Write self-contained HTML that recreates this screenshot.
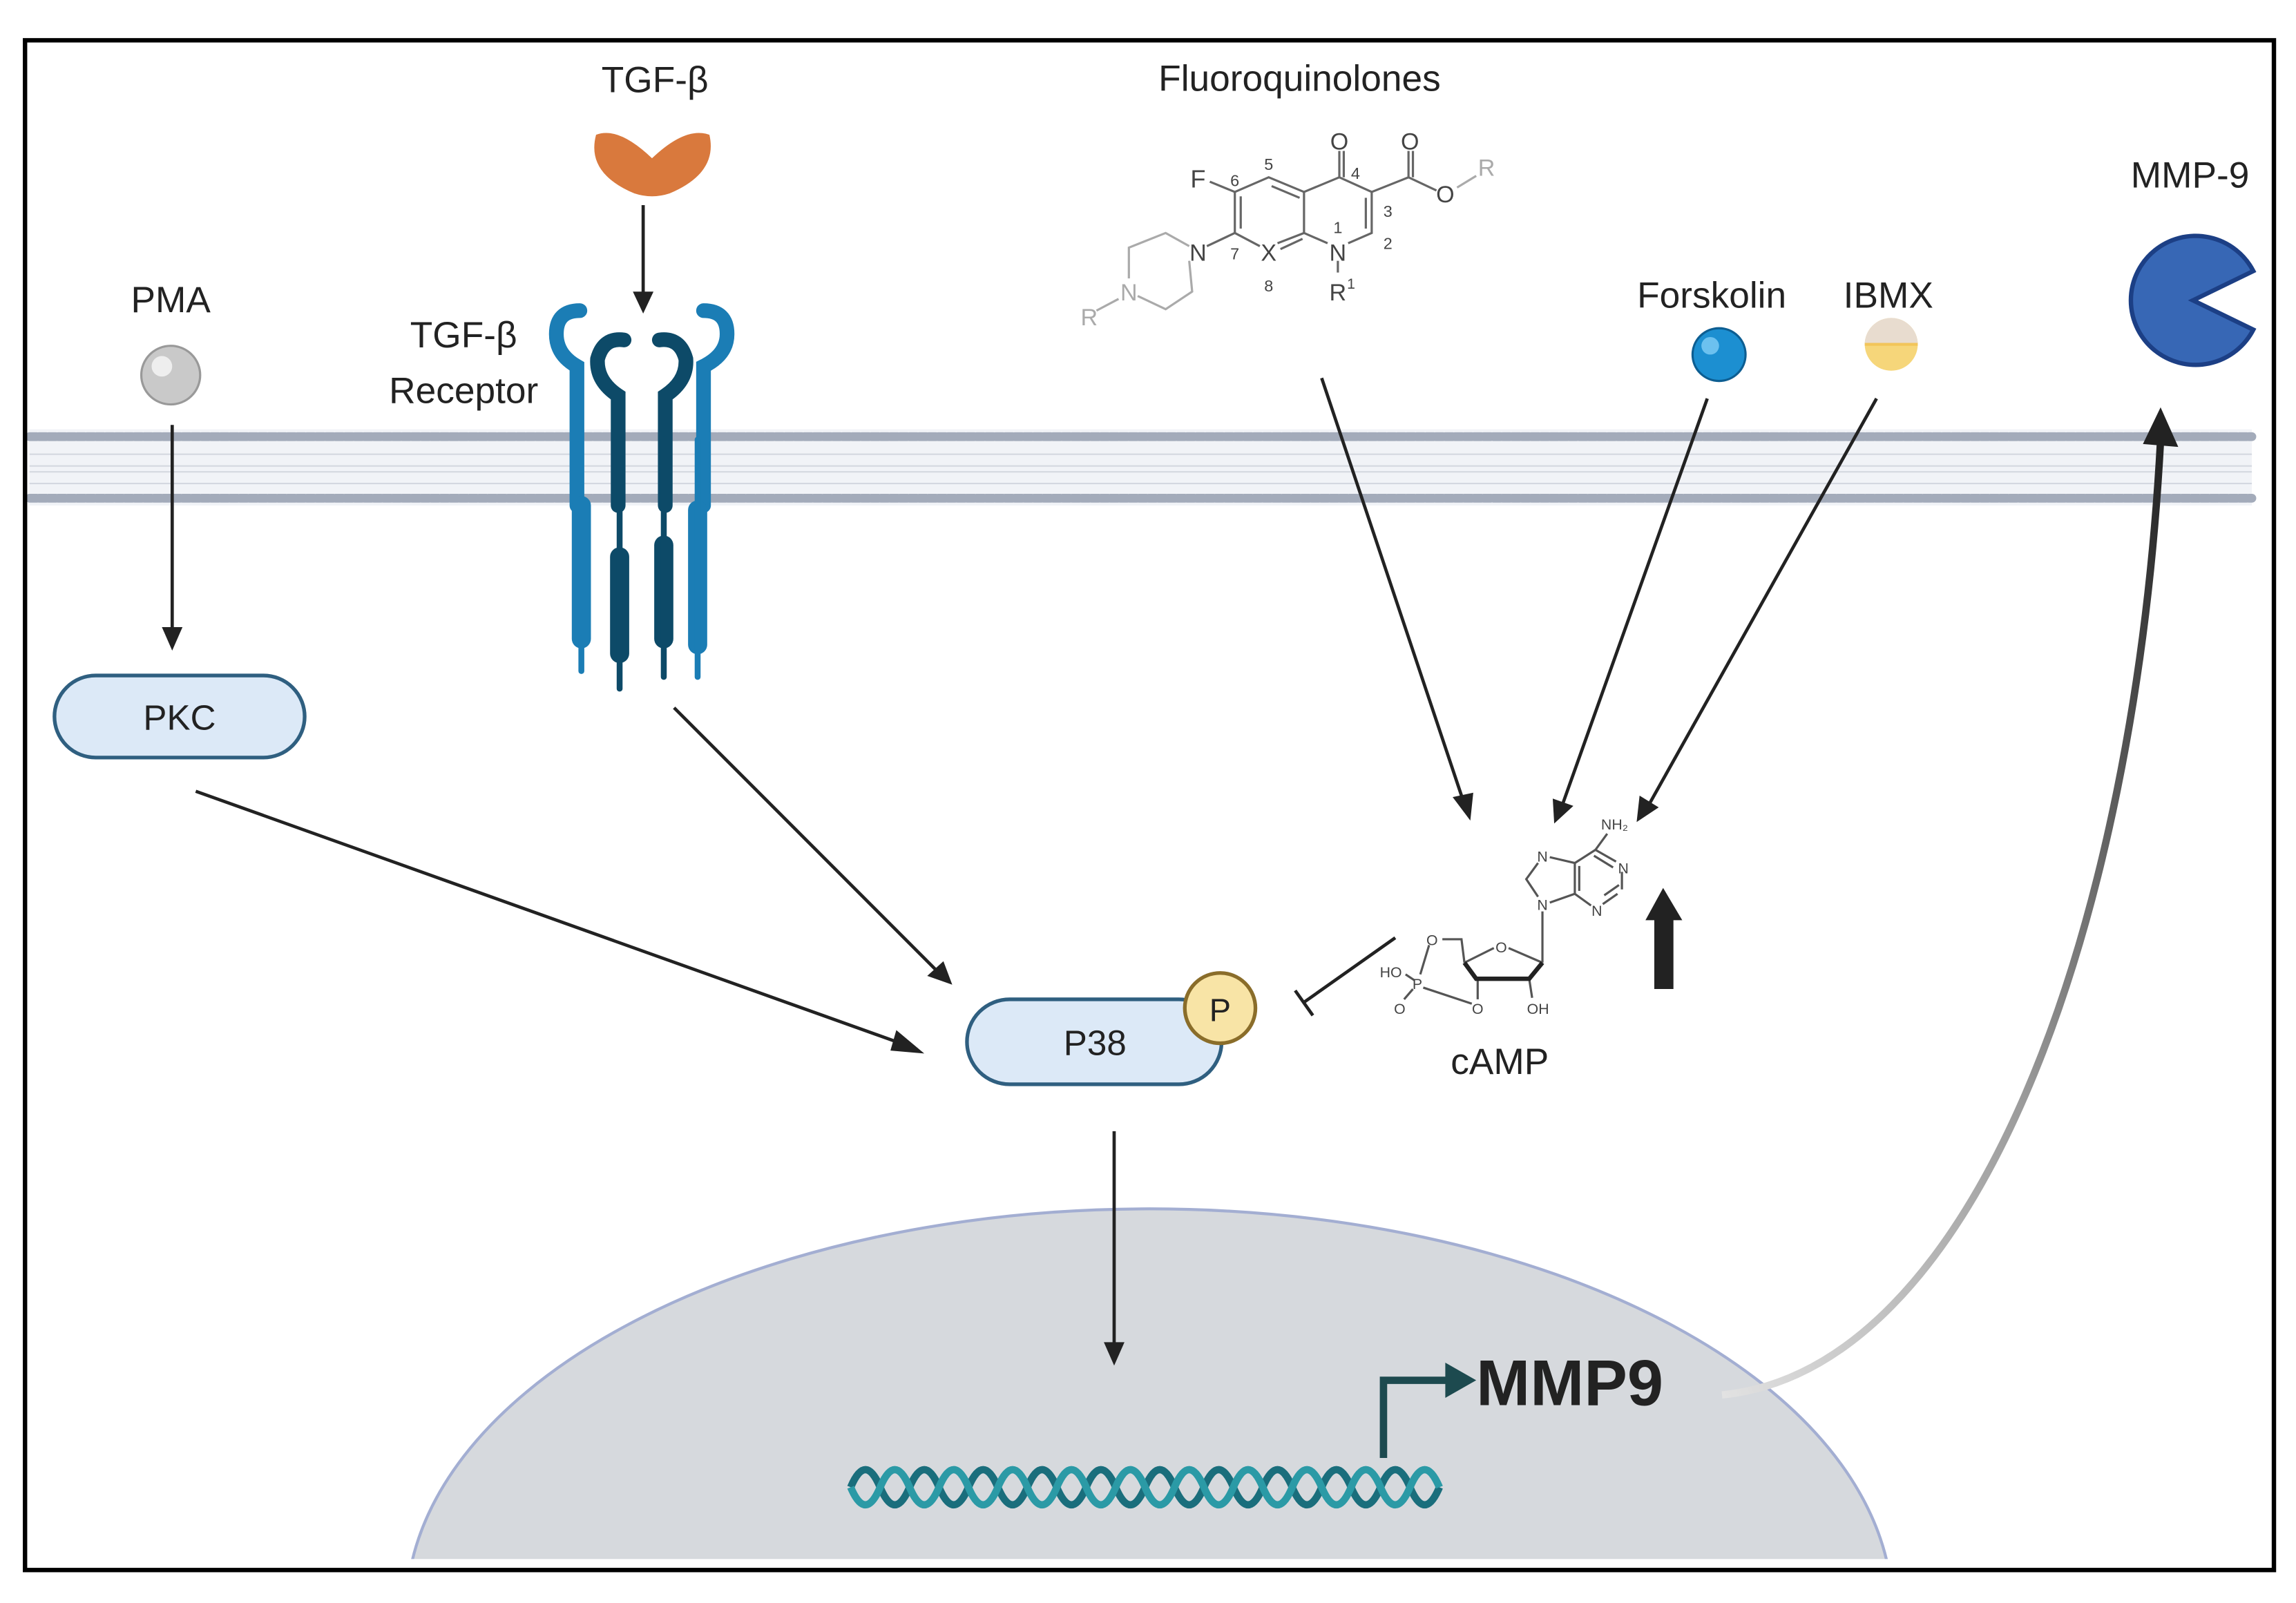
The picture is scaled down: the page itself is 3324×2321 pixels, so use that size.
<!DOCTYPE html>
<html><head><meta charset="utf-8"><style>
html,body{margin:0;padding:0;background:#fff;width:3324px;height:2321px;overflow:hidden;}
svg{display:block;}
text{font-family:"Liberation Sans",sans-serif;}
</style></head><body>
<svg width="3324" height="2321" viewBox="0 0 1560 1094" preserveAspectRatio="none" xmlns="http://www.w3.org/2000/svg">
<defs>
<linearGradient id="cg" x1="0" y1="1" x2="1" y2="0">
<stop offset="0" stop-color="#e2e2e2"/><stop offset="0.5" stop-color="#9a9a9a"/><stop offset="1" stop-color="#222"/>
</linearGradient>
<clipPath id="clipB"><rect x="18" y="28" width="1526" height="1042"/></clipPath>
</defs>
<rect width="1560" height="1094" fill="#fff"/>
<g clip-path="url(#clipB)">
<ellipse cx="781" cy="1100" rx="505" ry="275" fill="#d6d9dd" stroke="#a3aed2" stroke-width="2"/>
<rect x="18" y="1064" width="1526" height="10" fill="#fff"/>
</g>
<rect x="20" y="293" width="1510" height="52" fill="#f1f3f7"/>
<g stroke="#d4d8e0" stroke-width="1">
<line x1="20" y1="310" x2="1530" y2="310"/><line x1="20" y1="318" x2="1530" y2="318"/><line x1="20" y1="322" x2="1530" y2="322"/><line x1="20" y1="330" x2="1530" y2="330"/>
</g>
<line x1="20" y1="298" x2="1530" y2="298" stroke="#a3abba" stroke-width="6" stroke-dasharray="5 1.5" stroke-linecap="round"/>
<line x1="20" y1="340" x2="1530" y2="340" stroke="#a3abba" stroke-width="6" stroke-dasharray="5 1.5" stroke-linecap="round"/>
<rect x="17" y="27.5" width="1528" height="1044" fill="none" stroke="#000" stroke-width="3"/>

<text x="116" y="213" font-size="25" text-anchor="middle" fill="#222">PMA</text>
<circle cx="116" cy="256" r="20" fill="#c9c9c9" stroke="#999" stroke-width="1.5"/>
<circle cx="110" cy="250" r="7" fill="#eee"/>
<line x1="117" y1="290" x2="117" y2="428" stroke="#222" stroke-width="2.2"/>
<polygon points="110,428 124,428 117,444" fill="#222"/>
<rect x="37" y="461" width="170" height="56" rx="28" fill="#dce9f7" stroke="#2f5f80" stroke-width="2.5"/>
<text x="122" y="498" font-size="24" text-anchor="middle" fill="#222">PKC</text>

<text x="445" y="63" font-size="25" text-anchor="middle" fill="#222">TGF-β</text>
<path d="M405,92 Q420,86 443,108 Q466,86 482,92 Q488,118 455,132 Q443,136 431,132 Q398,118 405,92Z" fill="#d9793d"/>
<line x1="437" y1="140" x2="437" y2="200" stroke="#222" stroke-width="2.2"/>
<polygon points="430,199 444,199 437,214" fill="#222"/>
<text x="315" y="237" font-size="25" text-anchor="middle" fill="#222">TGF-β</text>
<text x="315" y="275" font-size="25" text-anchor="middle" fill="#222">Receptor</text>
<g stroke-linecap="round" fill="none">
<path d="M392,345 L392,250 Q378,242 378,228 Q378,212 394,212" stroke="#1b7db5" stroke-width="10"/>
<path d="M420,345 L420,270 Q405,260 406,245 Q410,230 424,232" stroke="#0d4a68" stroke-width="10"/>
<path d="M452,345 L452,270 Q467,260 466,245 Q462,230 448,232" stroke="#0d4a68" stroke-width="10"/>
<path d="M478,345 L478,250 Q494,242 494,228 Q494,212 478,212" stroke="#1b7db5" stroke-width="10"/>
<line x1="395" y1="345" x2="395" y2="436" stroke="#1b7db5" stroke-width="13"/>
<line x1="395" y1="436" x2="395" y2="458" stroke="#1b7db5" stroke-width="4"/>
<line x1="421" y1="380" x2="421" y2="446" stroke="#0d4a68" stroke-width="13"/>
<line x1="421" y1="300" x2="421" y2="470" stroke="#0d4a68" stroke-width="4"/>
<line x1="451" y1="372" x2="451" y2="436" stroke="#0d4a68" stroke-width="13"/>
<line x1="451" y1="300" x2="451" y2="462" stroke="#0d4a68" stroke-width="4"/>
<line x1="474" y1="348" x2="474" y2="440" stroke="#1b7db5" stroke-width="13"/>
<line x1="474" y1="300" x2="474" y2="462" stroke="#1b7db5" stroke-width="4"/>
</g>

<text x="883" y="62" font-size="25" text-anchor="middle" fill="#222">Fluoroquinolones</text>
<g stroke="#666" stroke-width="1.5" fill="none">
<polyline points="822,124 839,131 862,121 886,131 910,121 932,131 932,159 916,166"/>
<line x1="843" y1="134" x2="843" y2="156"/><line x1="864" y1="127" x2="883" y2="135"/><line x1="928" y1="135" x2="928" y2="156"/>
<line x1="839" y1="131" x2="839" y2="159"/><line x1="886" y1="131" x2="886" y2="159"/>
<polyline points="820,168 839,159 856,168"/><polyline points="868,166 886,159 902,166"/><line x1="870" y1="170" x2="885" y2="163"/>
<line x1="910" y1="121" x2="910" y2="103"/><line x1="913" y1="121" x2="913" y2="103"/>
<polyline points="932,131 957,121 976,130"/><line x1="957" y1="121" x2="957" y2="103"/><line x1="960" y1="121" x2="960" y2="103"/>
<line x1="909" y1="178" x2="909" y2="186"/>
</g>
<g stroke="#aaa" stroke-width="1.5" fill="none">
<polyline points="808,168 792,159 767,169 767,190"/><polyline points="808,178 810,199 792,211 773,202"/>
<line x1="760" y1="204" x2="745" y2="212"/><line x1="990" y1="128" x2="1003" y2="120"/>
</g>
<g font-size="14" fill="#444" text-anchor="middle">
<text x="910" y="102" font-size="16">O</text><text x="958" y="102" font-size="16">O</text>
<text x="814" y="128" font-size="17">F</text><text x="839" y="127" font-size="11">6</text><text x="862" y="116" font-size="11">5</text>
<text x="921" y="122" font-size="11">4</text><text x="943" y="148" font-size="11">3</text><text x="943" y="170" font-size="11">2</text>
<text x="909" y="159" font-size="11">1</text><text x="839" y="177" font-size="11">7</text><text x="862" y="178" font-size="16">X</text>
<text x="862" y="199" font-size="11">8</text><text x="909" y="178" font-size="16">N</text><text x="814" y="178" font-size="16">N</text>
<text x="909" y="205" font-size="16">R</text><text x="918" y="197" font-size="10">1</text>
<text x="982" y="138" font-size="16">O</text>
</g>
<g fill="#aaa" text-anchor="middle"><text x="767" y="205" font-size="16">N</text><text x="740" y="222" font-size="16">R</text><text x="1010" y="120" font-size="16">R</text></g>

<text x="1163" y="210" font-size="25" text-anchor="middle" fill="#222">Forskolin</text>
<circle cx="1168" cy="242" r="18" fill="#1c8fd1" stroke="#0d5e92" stroke-width="1.5"/>
<circle cx="1162" cy="236" r="6" fill="#6cc1ef"/>
<text x="1283" y="210" font-size="25" text-anchor="middle" fill="#222">IBMX</text>
<circle cx="1285" cy="235" r="18" fill="#f6d67a"/>
<path d="M1267,235 A18,18 0 0 1 1303,235Z" fill="#e8dccf"/>
<line x1="1267" y1="235" x2="1303" y2="235" stroke="#f2c55a" stroke-width="2"/>

<text x="1488" y="128" font-size="25" text-anchor="middle" fill="#222">MMP-9</text>
<path d="M1490,205 L1531,185 A44,44 0 1 0 1531,225 Z" fill="#3767b5" stroke="#1c3f85" stroke-width="3"/>

<g stroke="#222" stroke-width="2.2">
<line x1="133" y1="540" x2="612" y2="712"/>
<line x1="458" y1="483" x2="636" y2="662"/>
<line x1="898" y1="258" x2="994" y2="546"/>
<line x1="1160" y1="272" x2="1062" y2="548"/>
<line x1="1275" y1="272" x2="1121" y2="548"/>
<line x1="757" y1="772" x2="757" y2="918"/>
<line x1="948" y1="640" x2="886" y2="684"/>
<line x1="880" y1="676" x2="892" y2="693"/>
</g>
<polygon points="628,719 609,703 605,717" fill="#222"/>
<polygon points="647,672 630,666 641,656" fill="#222"/>
<polygon points="999,560 987,544 1001,541" fill="#222"/>
<polygon points="1056,562 1055,545 1069,550" fill="#222"/>
<polygon points="1112,561 1114,543 1127,551" fill="#222"/>
<polygon points="750,916 764,916 757,932" fill="#222"/>
<polygon points="1130,606 1143,628 1137,628 1137,675 1124,675 1124,628 1118,628" fill="#222"/>

<rect x="657" y="682" width="173" height="58" rx="29" fill="#dce9f7" stroke="#2f5f80" stroke-width="2.5"/>
<text x="744" y="720" font-size="24" text-anchor="middle" fill="#222">P38</text>
<circle cx="829" cy="688" r="24" fill="#f8e4a6" stroke="#8a6d2a" stroke-width="2.5"/>
<text x="829" y="697" font-size="22" text-anchor="middle" fill="#222">P</text>

<g stroke="#555" stroke-width="1.5" fill="none">
<line x1="1092" y1="569" x2="1084" y2="580"/>
<polyline points="1084,580 1098,588"/><line x1="1083" y1="584" x2="1096" y2="592"/>
<line x1="1102" y1="595" x2="1102" y2="607"/><line x1="1099" y1="610" x2="1089" y2="617"/><line x1="1100" y1="604" x2="1090" y2="611"/>
<line x1="1081" y1="618" x2="1070" y2="610"/>
<line x1="1070" y1="589" x2="1070" y2="610"/><line x1="1073" y1="591" x2="1073" y2="608"/>
<line x1="1084" y1="580" x2="1070" y2="589"/><line x1="1070" y1="589" x2="1053" y2="585"/><line x1="1070" y1="610" x2="1053" y2="616"/>
<polyline points="1045,589 1037,600 1045,612"/>
<line x1="1048" y1="622" x2="1048" y2="657"/>
<polyline points="1048,657 1025,647"/><polyline points="1015,647 995,657"/>
<polyline points="995,657 993,641 980,641"/>
<line x1="971" y1="645" x2="965" y2="665"/>
<line x1="955" y1="665" x2="961" y2="669"/>
<line x1="967" y1="674" x2="1000" y2="685"/>
<line x1="960" y1="675" x2="954" y2="682"/>
<line x1="1004" y1="668" x2="1004" y2="682"/><line x1="1039" y1="668" x2="1041" y2="681"/>
</g>
<polyline points="1048,657 1039,668 1003,668 995,657" fill="none" stroke="#222" stroke-width="3"/>
<g font-size="10" fill="#444" text-anchor="middle">
<text x="1097" y="566">NH₂</text><text x="1103" y="596">N</text><text x="1085" y="625">N</text>
<text x="1048" y="588">N</text><text x="1048" y="621">N</text><text x="1020" y="650">O</text>
<text x="973" y="645">O</text><text x="963" y="675">P</text><text x="945" y="667">HO</text>
<text x="951" y="692">O</text><text x="1004" y="692">O</text><text x="1045" y="692">OH</text>
</g>
<text x="1019" y="733" font-size="25" text-anchor="middle" fill="#222">cAMP</text>

<path d="M578,1015 Q588,991 598,1015 T618,1015 T638,1015 T658,1015 T678,1015 T698,1015 T718,1015 T738,1015 T758,1015 T778,1015 T798,1015 T818,1015 T838,1015 T858,1015 T878,1015 T898,1015 T918,1015 T938,1015 T958,1015 T978,1015" fill="none" stroke="#1a6e7c" stroke-width="5"/>
<path d="M578,1015 Q588,1039 598,1015 T618,1015 T638,1015 T658,1015 T678,1015 T698,1015 T718,1015 T738,1015 T758,1015 T778,1015 T798,1015 T818,1015 T838,1015 T858,1015 T878,1015 T898,1015 T918,1015 T938,1015 T958,1015 T978,1015" fill="none" stroke="#2b9aa6" stroke-width="5"/>
<polyline points="940,995 940,942 985,942" fill="none" stroke="#1d4a4f" stroke-width="5"/>
<polygon points="982,930 1003,942 982,954" fill="#1d4a4f"/>
<text x="1003" y="959" font-size="44" font-weight="bold" fill="#222">MMP9</text>
<path d="M1170,952 C1340,935 1450,640 1468,300" fill="none" stroke="url(#cg)" stroke-width="5"/>
<polygon points="1468,278 1480,305 1456,303" fill="#222"/>
</svg>
</body></html>
